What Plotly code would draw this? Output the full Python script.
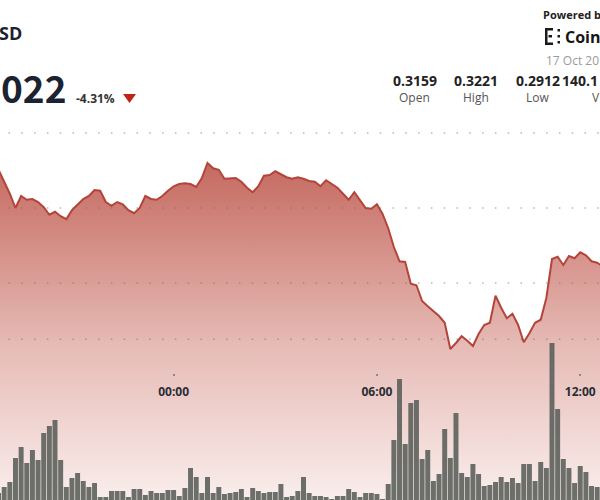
import plotly.graph_objects as go
import pandas as pd

# ---------------- data ----------------
price = [0.3151, 0.3136, 0.3119, 0.3100, 0.3116, 0.3111, 0.3112, 0.3108, 0.3101, 0.3091,
         0.3095, 0.3089, 0.3085, 0.3097, 0.3105, 0.3112, 0.3116, 0.3124, 0.3123, 0.3108,
         0.3103, 0.3108, 0.3105, 0.3097, 0.3093, 0.3100, 0.3116, 0.3112, 0.3111, 0.3116,
         0.3123, 0.3129, 0.3132, 0.3133, 0.3132, 0.3128, 0.3140, 0.3160, 0.3153, 0.3151,
         0.3139, 0.3140, 0.3140, 0.3135, 0.3127, 0.3121, 0.3129, 0.3143, 0.3144, 0.3149,
         0.3145, 0.3141, 0.3139, 0.3141, 0.3139, 0.3136, 0.3135, 0.3129, 0.3137, 0.3132,
         0.3127, 0.3119, 0.3111, 0.3121, 0.3111, 0.3100, 0.3099, 0.3105, 0.3092, 0.3073,
         0.3048, 0.3029, 0.3028, 0.2999, 0.2997, 0.2976, 0.2969, 0.2963, 0.2956, 0.2947,
         0.2912, 0.2920, 0.2929, 0.2923, 0.2916, 0.2932, 0.2944, 0.2947, 0.2983, 0.2967,
         0.2953, 0.2959, 0.2944, 0.2921, 0.2933, 0.2947, 0.2951, 0.2980, 0.3032, 0.3035,
         0.3024, 0.3036, 0.3033, 0.3041, 0.3037, 0.3029, 0.3027, 0.3022]

volume = [7, 13, 18, 42, 53, 37, 50, 40, 67, 74,
          80, 40, 13, 22, 27, 19, 13, 17, 3, 3,
          9, 9, 9, 3, 11, 11, 5, 9, 7, 7,
          10, 10, 4, 12, 32, 23, 7, 23, 7, 13,
          6, 7, 8, 11, 3, 12, 9, 7, 8, 8,
          16, 3, 4, 9, 23, 7, 4, 4, 3, 1,
          4, 4, 11, 8, 3, 7, 7, 6, 1, 16,
          60, 121, 56, 97, 100, 41, 50, 19, 26, 71,
          42, 87, 27, 23, 36, 26, 14, 15, 18, 23,
          18, 22, 17, 36, 36, 19, 38, 32, 157, 91,
          41, 32, 17, 34, 28, 14, 13]

series_start = "2022-10-16 18:50"
price_time = pd.date_range(series_start, periods=len(price), freq="10min")
volume_time = pd.date_range(series_start, periods=len(volume), freq="10min")

tick_times = ["2022-10-17 00:00", "2022-10-17 06:00", "2022-10-17 12:00"]
tick_labels = ["00:00", "06:00", "12:00"]
grid_levels = [0.32, 0.31, 0.30, 0.2925]

stat_values = ["0.3159", "0.3221", "0.2912", "140.1"]
stat_labels = ["Open", "High", "Low", "V"]

# ---------------- figure ----------------
W, H = 600, 500
X = lambda px: px / W
Y = lambda py: 1 - py / H

fig = go.Figure()
fig.add_trace(go.Scatter(
    x=price_time, y=price, mode="lines",
    line=dict(color="#b4443a", width=2),
    fill="tozeroy",
    fillgradient=dict(type="vertical", start=0.2711, stop=0.3160,
                      colorscale=[[0, "rgb(249,238,236)"], [0.45, "rgb(231,188,183)"],
                                  [1, "rgb(197,106,96)"]]),
    hoverinfo="skip"))
fig.add_trace(go.Bar(
    x=volume_time, y=volume, yaxis="y2",
    marker=dict(color="rgba(92,97,92,0.9)", line=dict(width=0)),
    hoverinfo="skip"))

shapes = []
for lvl in grid_levels:
    shapes.append(dict(type="line", xref="paper", yref="y", x0=X(8.5), x1=1, y0=lvl, y1=lvl,
                       line=dict(color="rgba(110,110,110,0.5)", width=1.5, dash="1.5px,11.3px"),
                       layer="above"))
# down triangle next to change
shapes.append(dict(type="path", xref="paper", yref="paper",
                   path=f"M {X(123)},{Y(94)} L {X(136)},{Y(94)} L {X(129.5)},{Y(103)} Z",
                   fillcolor="#c0231b", line=dict(width=0)))
# logo icon
for (x0, y0, x1, y1) in [(545, 28, 547.5, 45), (545, 28, 553, 30.5), (545, 42.5, 553, 45),
                         (548.5, 35, 552, 37.5), (557.5, 29, 560, 31.5), (557.5, 35, 560, 37.5),
                         (557.5, 41, 560, 43.5)]:
    shapes.append(dict(type="rect", xref="paper", yref="paper",
                       x0=X(x0), x1=X(x1), y0=Y(y0), y1=Y(y1),
                       fillcolor="#1a1a1a", line=dict(width=0)))

annotations = []
def ann(text, x, y, size, color, bold=False, xanchor="left", family="Open Sans"):
    annotations.append(dict(text=text, x=X(x), y=Y(y), xref="paper", yref="paper",
                            xanchor=xanchor, yanchor="middle", showarrow=False,
                            font=dict(family=family, size=size, color=color,
                                      weight="bold" if bold else "normal")))

ann("SD", -3, 33, 18, "#1b2230", True)
ann("022", -1, 87, 37, "#1b2230", True, "left", "Noto Sans CJK SC")
ann("-4.31%", 74, 99, 12, "#333333", True)
ann("Powered b", 541, 14, 11, "#222222", True)
ann("Coin", 563, 37.5, 16, "#151515", True)
ann("17 Oct 20", 544, 60, 12, "#9a9a9a")
for cx, v, l in zip([414.5, 475.5, 537.7], stat_values[:3], stat_labels[:3]):
    ann(v, cx, 80, 14, "#222222", True, "center")
    ann(l, cx, 97.5, 12, "#555555", False, "center")
ann(stat_values[3], 560, 80, 14, "#222222", True)
ann(stat_labels[3], 590, 97.5, 12, "#555555")

fig.update_layout(
    width=W, height=H, margin=dict(l=0, r=0, t=0, b=0),
    paper_bgcolor="white", plot_bgcolor="white",
    showlegend=False, bargap=0.12,
    xaxis=dict(type="date", range=["2022-10-16 18:52:36", "2022-10-17 12:35:00"],
               anchor="free", position=Y(373), showgrid=False, zeroline=False, showline=False,
               ticks="outside", ticklen=2, tickwidth=1.5, tickcolor="#8a8a8a",
               tickvals=tick_times, ticktext=tick_labels, ticklabelstandoff=6,
               tickfont=dict(family="Open Sans", size=12, color="#2a2e36", weight="bold"),
               layer="above traces"),
    yaxis=dict(range=[0.271067, 0.337733], visible=False),
    yaxis2=dict(range=[0, 500], overlaying="y", visible=False),
    shapes=shapes, annotations=annotations,
)

fig.write_html("out.html", config={"displayModeBar": False},
               post_script="document.body.style.margin='0';")
